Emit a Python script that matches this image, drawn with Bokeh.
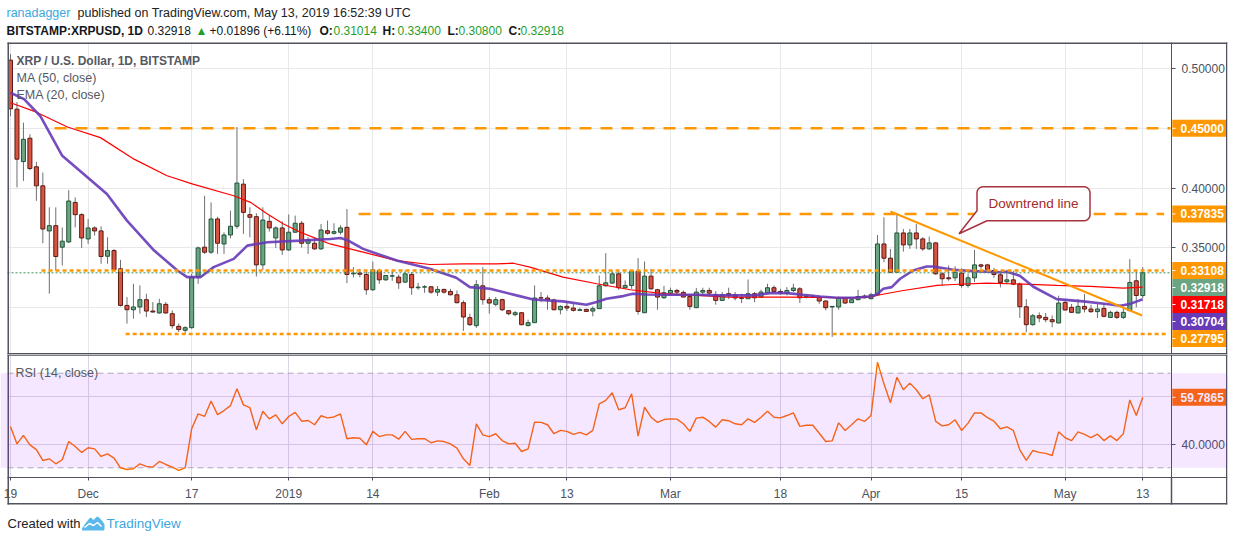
import numpy as np
from bokeh.plotting import figure
from bokeh.models import (Range1d, FixedTicker, PrintfTickFormatter, Label, BoxAnnotation,
                          ColumnDataSource, LinearAxis)
from bokeh.layouts import column
from bokeh.embed import file_html
from bokeh.resources import INLINE
from bokeh.core.properties import value

# ---------------- data ----------------
first_day = "2018-11-19"   # day 0 ; one candle per day up to 2019-05-13 (day 175)

opens = [0.507, 0.466, 0.4222, 0.4417, 0.4178, 0.4019, 0.3642, 0.3686, 0.3506, 0.3550,
         0.3880, 0.3778, 0.3575, 0.3667, 0.3642, 0.3430, 0.3478, 0.3325, 0.3019, 0.2983,
         0.3006, 0.3067, 0.2972, 0.2956, 0.3028, 0.2950, 0.2844, 0.2811, 0.2833, 0.3256,
         0.3506, 0.3464, 0.3742, 0.3533, 0.3608, 0.3681, 0.4033, 0.3778, 0.3761, 0.3358,
         0.3722, 0.3583, 0.3667, 0.3483, 0.3631, 0.3706, 0.3539, 0.3539, 0.3492, 0.3644,
         0.3622, 0.3631, 0.3672, 0.3283, 0.3290, 0.3278, 0.3150, 0.3311, 0.3233, 0.3264,
         0.3256, 0.3214, 0.3278, 0.3167, 0.3172, 0.3175, 0.3130, 0.3153, 0.3136, 0.3108,
         0.3042, 0.2917, 0.2850, 0.3183, 0.3067, 0.3028, 0.3067, 0.2975, 0.2942, 0.2958,
         0.2850, 0.2875, 0.3083, 0.3081, 0.3064, 0.2983, 0.3011, 0.2997, 0.2978, 0.2986,
         0.2972, 0.2992, 0.3183, 0.3206, 0.3283, 0.3167, 0.3186, 0.3306, 0.2958, 0.3264,
         0.3150, 0.3083, 0.3122, 0.3144, 0.3128, 0.3094, 0.3000, 0.3130, 0.3144, 0.3108,
         0.3061, 0.3117, 0.3108, 0.3083, 0.3075, 0.3117, 0.3089, 0.3125, 0.3167, 0.3136,
         0.3122, 0.3144, 0.3158, 0.3089, 0.3094, 0.3089, 0.3056, 0.3006, 0.3006, 0.3083,
         0.3042, 0.3067, 0.3097, 0.3075, 0.3108, 0.3533, 0.3414, 0.3297, 0.3625, 0.3525,
         0.3625, 0.3575, 0.3492, 0.3542, 0.3283, 0.3250, 0.3250, 0.3289, 0.3186, 0.3250,
         0.3358, 0.3358, 0.3311, 0.3275, 0.3217, 0.3233, 0.3197, 0.3008, 0.2858, 0.2933,
         0.2919, 0.2900, 0.2872, 0.3044, 0.3003, 0.2956, 0.3011, 0.2989, 0.2967, 0.2994,
         0.2919, 0.2961, 0.2919, 0.2975, 0.3225, 0.31014]

highs = [0.512, 0.472, 0.4547, 0.4450, 0.4220, 0.4130, 0.3839, 0.3839, 0.3672, 0.3983,
         0.3922, 0.3790, 0.3742, 0.3680, 0.3680, 0.3589, 0.3490, 0.3400, 0.3089, 0.3200,
         0.3186, 0.3117, 0.3047, 0.3075, 0.3047, 0.2978, 0.2867, 0.2844, 0.3283, 0.3511,
         0.3936, 0.3880, 0.3760, 0.3630, 0.3811, 0.4511, 0.4075, 0.3839, 0.3790, 0.3839,
         0.3770, 0.3680, 0.3722, 0.3780, 0.3770, 0.3725, 0.3589, 0.3583, 0.3700, 0.3728,
         0.3706, 0.3689, 0.3825, 0.3339, 0.3325, 0.3311, 0.3386, 0.3325, 0.3261, 0.3311,
         0.3278, 0.3311, 0.3297, 0.3208, 0.3189, 0.3181, 0.3181, 0.3158, 0.3158, 0.3144,
         0.3061, 0.2950, 0.3231, 0.3339, 0.3089, 0.3089, 0.3075, 0.2978, 0.2972, 0.2964,
         0.2900, 0.3186, 0.3131, 0.3103, 0.3075, 0.3019, 0.3053, 0.3033, 0.3000, 0.2992,
         0.3011, 0.3269, 0.3456, 0.3311, 0.3311, 0.3228, 0.3311, 0.3414, 0.3386, 0.3325,
         0.3158, 0.3183, 0.3167, 0.3158, 0.3144, 0.3103, 0.3164, 0.3167, 0.3167, 0.3139,
         0.3131, 0.3167, 0.3131, 0.3117, 0.3236, 0.3131, 0.3150, 0.3200, 0.3186, 0.3158,
         0.3172, 0.3200, 0.3172, 0.3111, 0.3111, 0.3100, 0.3061, 0.3014, 0.3094, 0.3089,
         0.3067, 0.3150, 0.3111, 0.3125, 0.3608, 0.3756, 0.3492, 0.3789, 0.3658, 0.3658,
         0.3700, 0.3589, 0.3594, 0.3550, 0.3297, 0.3353, 0.3347, 0.3331, 0.3283, 0.3483,
         0.3367, 0.3367, 0.3333, 0.3308, 0.3317, 0.3308, 0.3211, 0.3072, 0.2947, 0.2961,
         0.2956, 0.2936, 0.3100, 0.3072, 0.3031, 0.3072, 0.3114, 0.3025, 0.3031, 0.3036,
         0.2975, 0.2975, 0.3008, 0.3406, 0.3308, 0.3340]

lows = [0.4600, 0.4006, 0.4060, 0.4150, 0.3894, 0.3539, 0.3117, 0.3311, 0.3353, 0.3540,
        0.3672, 0.3500, 0.3533, 0.3603, 0.3367, 0.3367, 0.3311, 0.3010, 0.2867, 0.2908,
        0.2950, 0.2922, 0.2960, 0.2950, 0.2950, 0.2825, 0.2797, 0.2783, 0.2825, 0.3200,
        0.3450, 0.3450, 0.3450, 0.3450, 0.3580, 0.3660, 0.3617, 0.3589, 0.3261, 0.3317,
        0.3636, 0.3500, 0.3442, 0.3475, 0.3625, 0.3503, 0.3450, 0.3483, 0.3483, 0.3611,
        0.3611, 0.3611, 0.3206, 0.3253, 0.3253, 0.3108, 0.3140, 0.3200, 0.3225, 0.3225,
        0.3158, 0.3208, 0.3108, 0.3150, 0.3125, 0.3117, 0.3097, 0.3117, 0.3103, 0.3036,
        0.2806, 0.2847, 0.2831, 0.3025, 0.2950, 0.3011, 0.2972, 0.2936, 0.2928, 0.2853,
        0.2844, 0.2872, 0.3047, 0.2983, 0.2978, 0.2944, 0.2972, 0.2967, 0.2972, 0.2964,
        0.2928, 0.2992, 0.3178, 0.3200, 0.3150, 0.3158, 0.3158, 0.2942, 0.2958, 0.3150,
        0.2983, 0.3075, 0.3111, 0.3097, 0.3097, 0.2983, 0.2997, 0.3103, 0.3114, 0.3025,
        0.3056, 0.3072, 0.3061, 0.3039, 0.3075, 0.3047, 0.3083, 0.3122, 0.3131, 0.3108,
        0.3103, 0.3131, 0.3039, 0.3078, 0.3085, 0.3033, 0.2978, 0.2756, 0.2983, 0.3033,
        0.3039, 0.3061, 0.3078, 0.3072, 0.3108, 0.3381, 0.3289, 0.3297, 0.3469, 0.3492,
        0.3492, 0.3475, 0.3483, 0.3275, 0.3186, 0.3225, 0.3222, 0.3167, 0.3167, 0.3214,
        0.3325, 0.3306, 0.3250, 0.3169, 0.3197, 0.3189, 0.2914, 0.2794, 0.2850, 0.2878,
        0.2878, 0.2836, 0.2872, 0.2975, 0.2956, 0.2953, 0.2961, 0.2956, 0.2914, 0.2919,
        0.2914, 0.2906, 0.2906, 0.2975, 0.3003, 0.3080]

closes = [0.4663, 0.4242, 0.4408, 0.4164, 0.4019, 0.3658, 0.3686, 0.3428, 0.3556, 0.3892,
          0.3778, 0.3583, 0.3667, 0.3642, 0.3428, 0.3478, 0.3317, 0.3019, 0.2983, 0.3006,
          0.3067, 0.2972, 0.2964, 0.3033, 0.2956, 0.2850, 0.2817, 0.2833, 0.3256, 0.3500,
          0.3464, 0.3742, 0.3539, 0.3608, 0.3681, 0.4042, 0.3797, 0.3756, 0.3358, 0.3733,
          0.3667, 0.3667, 0.3483, 0.3631, 0.3706, 0.3539, 0.3567, 0.3492, 0.3650, 0.3622,
          0.3636, 0.3667, 0.3278, 0.3289, 0.3280, 0.3150, 0.3317, 0.3233, 0.3269, 0.3267,
          0.3208, 0.3283, 0.3167, 0.3172, 0.3175, 0.3130, 0.3153, 0.3130, 0.3108, 0.3042,
          0.2922, 0.2858, 0.3192, 0.3067, 0.3039, 0.3067, 0.2983, 0.2950, 0.2958, 0.2858,
          0.2875, 0.3081, 0.3081, 0.3064, 0.2983, 0.3011, 0.2997, 0.2978, 0.2983, 0.2969,
          0.2992, 0.3183, 0.3208, 0.3283, 0.3167, 0.3186, 0.3306, 0.2969, 0.3264, 0.3158,
          0.3089, 0.3125, 0.3144, 0.3130, 0.3089, 0.3011, 0.3130, 0.3144, 0.3122, 0.3061,
          0.3108, 0.3103, 0.3081, 0.3078, 0.3117, 0.3083, 0.3131, 0.3167, 0.3136, 0.3122,
          0.3144, 0.3164, 0.3083, 0.3094, 0.3089, 0.3056, 0.3000, 0.3011, 0.3083, 0.3039,
          0.3067, 0.3094, 0.3083, 0.3108, 0.3533, 0.3414, 0.3297, 0.3625, 0.3525, 0.3625,
          0.3575, 0.3492, 0.3542, 0.3283, 0.3242, 0.3242, 0.3297, 0.3186, 0.3250, 0.3358,
          0.3347, 0.3317, 0.3278, 0.3211, 0.3233, 0.3197, 0.3008, 0.2858, 0.2933, 0.2914,
          0.2900, 0.2883, 0.3039, 0.2981, 0.2961, 0.3011, 0.2989, 0.2967, 0.2989, 0.2928,
          0.2961, 0.2919, 0.2961, 0.3211, 0.3102, 0.32918]

rsi14 = [47.5, 40.1, 43.7, 39.7, 37.7, 33.1, 33.8, 31.7, 33.4, 41.1,
         39.0, 36.5, 38.5, 38.0, 34.8, 35.9, 34.1, 30.0, 29.3, 29.6,
         31.7, 30.6, 30.3, 32.7, 31.4, 30.3, 28.9, 30.0, 46.5, 52.8,
         51.7, 58.2, 52.5, 54.2, 56.3, 63.4, 56.6, 55.4, 46.1, 53.9,
         50.7, 52.4, 48.6, 51.7, 53.4, 49.7, 50.0, 48.2, 52.0, 51.1,
         51.5, 52.8, 42.3, 42.7, 42.5, 39.7, 45.4, 43.2, 43.9, 43.9,
         42.1, 45.4, 42.0, 42.3, 42.3, 40.6, 41.4, 41.1, 40.1, 38.3,
         33.8, 31.0, 48.6, 43.9, 43.2, 44.4, 41.5, 40.1, 40.4, 36.9,
         38.0, 49.3, 49.2, 48.2, 44.4, 45.8, 45.4, 44.1, 45.0, 43.9,
         45.8, 57.0, 58.5, 61.7, 54.5, 55.4, 61.3, 43.4, 55.6, 51.4,
         49.2, 50.4, 50.7, 50.6, 48.6, 45.4, 51.0, 51.4, 49.6, 47.2,
         50.3, 49.9, 48.6, 48.2, 50.7, 49.2, 51.4, 53.9, 51.4, 51.1,
         52.1, 53.2, 47.5, 48.0, 48.0, 44.6, 41.1, 41.4, 49.0, 45.8,
         48.2, 50.7, 49.6, 52.1, 74.6, 65.5, 57.5, 68.3, 63.0, 65.8,
         63.0, 59.2, 60.8, 49.6, 47.7, 48.2, 50.3, 45.8, 48.9, 53.2,
         53.2, 51.2, 49.7, 46.5, 47.3, 45.8, 37.6, 33.1, 37.3, 36.5,
         36.1, 35.2, 45.2, 42.7, 41.5, 45.2, 44.1, 42.8, 44.2, 41.5,
         43.5, 41.5, 44.4, 58.7, 52.1, 59.7865]

ma50_day = [0.0, 3.6, 8.8, 13.9, 19.1, 24.2, 28.2, 34.5, 37.1, 39.7, 42.2, 44.8, 47.4, 49.4,
            54.5, 59.7, 64.8, 70.0, 75.1, 77.7, 80.3, 85.4, 90.6, 95.8, 100.9, 106.1, 110.9,
            120.0, 130.3, 132.8, 134.4, 138.0, 143.2, 145.7, 150.9, 156.6, 161.7, 166.9, 172.0, 175.0]
ma50 = [0.4714, 0.4644, 0.4511, 0.4422, 0.4242, 0.4103, 0.4033, 0.3936, 0.3881, 0.3783, 0.3700,
        0.3631, 0.3575, 0.3533, 0.3464, 0.3394, 0.3361, 0.3367, 0.3367, 0.3372, 0.3339, 0.3256,
        0.3200, 0.3150, 0.3117, 0.3103, 0.3089, 0.3089, 0.3083, 0.3089, 0.3108, 0.3144, 0.3186,
        0.3194, 0.3205, 0.3197, 0.3186, 0.3178, 0.3164, 0.31718]

ema20_day = [0.0, 2.1, 4.6, 8.0, 11.3, 14.9, 18.0, 22.2, 25.8, 27.3, 29.4, 31.4, 34.5, 36.6,
             39.7, 44.8, 49.4, 51.0, 52.0, 54.5, 59.7, 64.8, 68.9, 71.0, 74.1, 78.2, 80.8,
             85.4, 89.0, 90.6, 92.1, 94.7, 96.2, 98.3, 100.9, 106.1, 109.7, 114.8, 117.4, 120.0,
             122.5, 125.1, 127.7, 130.3, 132.8, 133.9, 134.9, 136.2, 137.5, 139.5, 141.6, 142.6,
             145.7, 148.8, 152.9, 154.0, 156.0, 158.1, 161.7, 165.8, 169.4, 171.5, 173.0, 174.1, 175.0]
ema20 = [0.4797, 0.4744, 0.4603, 0.4270, 0.4117, 0.3950, 0.3728, 0.3478, 0.3311, 0.3256, 0.3256,
         0.3339, 0.3408, 0.3519, 0.3547, 0.3561, 0.3575, 0.3583, 0.3567, 0.3492, 0.3394, 0.3325,
         0.3250, 0.3172, 0.3158, 0.3103, 0.3069, 0.3053, 0.3025, 0.3047, 0.3075, 0.3097, 0.3117,
         0.3111, 0.3108, 0.3108, 0.3103, 0.3103, 0.3122, 0.3122, 0.3108, 0.3094, 0.3083, 0.3083,
         0.3094, 0.3111, 0.3158, 0.3172, 0.3242, 0.3311, 0.3344, 0.3344, 0.3317, 0.3306, 0.3297,
         0.3300, 0.3267, 0.3175, 0.3072, 0.3053, 0.3031, 0.3017, 0.3031, 0.3053, 0.30704]

tick_day = [0, 12, 28, 43, 56, 74, 86, 102, 119, 133, 147, 163, 175]
tick_label = ["19", "Dec", "17", "2019", "14", "Feb", "13", "Mar", "18", "Apr", "15", "May", "13"]
price_ticks = [0.30, 0.35, 0.40, 0.45, 0.50]
rsi_ticks = [40, 60]

level_price = [0.45, 0.37835, 0.33108, 0.27795]
level_start = [6.8, 53.8, 4.8, 17.8]
level_end = [179.3, 178.3, 178.3, 178.8]

trend_day = [136.0, 174.9]
trend_price = [0.3804, 0.2935]

callout_day = 146.6
callout_price = 0.3618
callout_text = "Downtrend line"

# ---------------- layout (window pixels) / style ----------------
FONT = "Liberation Sans"
PAGE_W, PAGE_H = 1234, 541
BOX_L, BOX_R, SEP_X = 7, 1227, 1171          # chart box and price-scale separator
PRICE_TOP, PANE_SPLIT, RSI_BOT, AXIS_BOT = 42, 354, 477, 504
PX_DAY, DAY0_X = 6.47, 10.0                 # candle spacing and first candle position
ORANGE = "#ff9800"
UP_FILL, UP_LINE = "#6ba583", "#225437"
DN_FILL, DN_LINE = "#d75442", "#5b1a13"
FRAME_COL = "#50535e"
TXT_COL = "#4c525e"
GRID_COL = "#e8e8eb"
LEG_COL = "#555962"

p_lo, p_hi = 0.26087, 0.52174                # price at pane bottom / pane top
r_lo, r_hi = 25.9, 77.9                      # RSI at pane bottom / pane top
dpp_y = (p_hi - p_lo) / (PANE_SPLIT - PRICE_TOP)
dpr_y = (r_hi - r_lo) / (RSI_BOT - PANE_SPLIT)
dpp_x = 1.0 / PX_DAY


def X(px):          # window x -> day
    return (px - DAY0_X) / PX_DAY


def YP(py):         # window y -> price
    return p_hi - (py - PRICE_TOP) * dpp_y


def YR(py):         # window y -> RSI
    return r_hi - (py - PANE_SPLIT) * dpr_y


xr = Range1d(X(0), X(BOX_R))
sep_day = X(SEP_X)

days = np.arange(len(closes))
o = np.array(opens); h = np.array(highs); l = np.array(lows); c = np.array(closes)


def style_axis(ax):
    ax.major_label_text_font = FONT
    ax.major_label_text_font_size = "12px"
    ax.major_label_text_color = TXT_COL
    ax.minor_tick_line_color = None
    ax.major_tick_in = 0
    ax.major_tick_line_color = TXT_COL
    ax.axis_line_color = FRAME_COL


def white(fig, x0, x1, y0, y1):
    fig.quad(left=[x0], right=[x1], bottom=[y0], top=[y1], fill_color="white", line_color=None)


def border(fig, xs0, ys0, xs1, ys1):
    fig.segment(x0=xs0, y0=ys0, x1=xs1, y1=ys1, line_color=FRAME_COL, line_width=1.5)


def value_tags(fig, items, dpy, fmt):
    """stacked coloured value tags on the price scale, drawn in the scale column"""
    gap = 17 * dpy
    prev = None
    ys, cols, texts = [], [], []
    for val, col in sorted(items, key=lambda m: -m[0]):
        yd = val if prev is None else min(val, prev - gap)
        prev = yd
        ys.append(yd); cols.append(col); texts.append(fmt % val)
    fig.quad(left=X(SEP_X + 0.8), right=X(BOX_R - 0.5), bottom=[y - 8.5 * dpy for y in ys],
             top=[y + 8.5 * dpy for y in ys], fill_color=cols, line_color=None)
    fig.segment(x0=[X(SEP_X + 0.8)] * len(ys), y0=ys, x1=[X(SEP_X + 4)] * len(ys),
                y1=ys, line_color="white", line_width=1)
    fig.text(x=[X(SEP_X + 9)] * len(ys), y=ys, text=texts, text_font=value(FONT),
             text_font_size="12px", text_font_style="bold", text_color="white",
             text_baseline="middle", text_align="left")


def screen_label(fig, x, y, text, size, color, style="normal"):
    fig.add_layout(Label(x=x, y=y, x_units="screen", y_units="screen", text=text,
                         text_font=FONT, text_font_size=size, text_color=color,
                         text_font_style=style, text_baseline="middle"))


# =============== price pane (also holds the header) ===============
PH = PANE_SPLIT
p = figure(frame_width=BOX_R, frame_height=PH, x_range=xr, y_range=Range1d(YP(PANE_SPLIT), YP(0)),
           output_backend="svg", toolbar_location=None, x_axis_location=None,
           y_axis_location=None, min_border_left=0, min_border_right=PAGE_W - BOX_R,
           min_border_top=0, min_border_bottom=0)
p.outline_line_color = None
p.xgrid.ticker = FixedTicker(ticks=tick_day)
p.ygrid.ticker = FixedTicker(ticks=price_ticks)
p.grid.grid_line_color = GRID_COL

white(p, X(0), X(BOX_R), YP(PRICE_TOP), YP(0))          # header area
white(p, X(0), X(BOX_L), YP(PANE_SPLIT), YP(0))          # left margin
white(p, X(SEP_X), X(BOX_R), YP(PANE_SPLIT), YP(PRICE_TOP))  # price scale column

# candles
up = c >= o
src_up = ColumnDataSource(dict(x=days[up], top=np.maximum(o, c)[up], bottom=np.minimum(o, c)[up]))
src_dn = ColumnDataSource(dict(x=days[~up], top=np.maximum(o, c)[~up], bottom=np.minimum(o, c)[~up]))
p.segment(x0=days, y0=l, x1=days, y1=h, line_color="#6f6f72", line_width=1)
p.vbar(x="x", top="top", bottom="bottom", width=0.62, source=src_up,
       fill_color=UP_FILL, line_color=UP_LINE, line_width=1)
p.vbar(x="x", top="top", bottom="bottom", width=0.62, source=src_dn,
       fill_color=DN_FILL, line_color=DN_LINE, line_width=1)

# moving averages
p.line(ma50_day, ma50, line_color="#ff0000", line_width=1.2)
p.line(ema20_day, ema20, line_color="#673ab7", line_width=2.6, line_alpha=0.9)

# horizontal levels
level_dash = ["12 9", "12 9", "4 3", "4 3"]
for lp, ls, le, dash in zip(level_price, level_start, level_end, level_dash):
    p.segment(x0=[ls], y0=[lp], x1=[le], y1=[lp], line_color=ORANGE, line_width=2.6, line_dash=dash)

# last close dotted line
p.segment(x0=[X(BOX_L)], y0=[closes[-1]], x1=[sep_day], y1=[closes[-1]], line_color="#3f8f5f",
          line_width=1, line_dash="2 2")

# downtrend line
p.line(trend_day, trend_price, line_color=ORANGE, line_width=2)

# callout
L_, R_, T_, B_, rad = 18.0, 131.0, -47.0, -13.0, 6.0
pts = [(L_, -23.0), (L_, T_ + rad)]
for a in np.linspace(np.pi, 1.5 * np.pi, 6)[1:]:
    pts.append((L_ + rad + rad * np.cos(a), T_ + rad + rad * np.sin(a)))
pts.append((R_ - rad, T_))
for a in np.linspace(1.5 * np.pi, 2 * np.pi, 6)[1:]:
    pts.append((R_ - rad + rad * np.cos(a), T_ + rad + rad * np.sin(a)))
pts.append((R_, B_ - rad))
for a in np.linspace(0, 0.5 * np.pi, 6)[1:]:
    pts.append((R_ - rad + rad * np.cos(a), B_ - rad + rad * np.sin(a)))
pts.append((28.0, B_))
pts.append((0.0, 0.0))
pts.append((L_, -23.0))
cx = [callout_day + px * dpp_x for px, py in pts]
cy = [callout_price - py * dpp_y for px, py in pts]
p.patch(cx, cy, fill_color="white", line_color="#a8323e", line_width=1.5)
p.text(x=[callout_day + (L_ + R_) / 2 * dpp_x], y=[callout_price + 30 * dpp_y], text=[callout_text],
       text_font=value(FONT), text_font_size="13.5px", text_color="#a52a2a",
       text_align="center", text_baseline="middle")

# price scale
pax = LinearAxis(fixed_location=sep_day, ticker=FixedTicker(ticks=[0.35, 0.40, 0.50]),
                 formatter=PrintfTickFormatter(format="%.5f"), bounds=(YP(PANE_SPLIT), YP(PRICE_TOP)))
style_axis(pax)
pax.major_tick_out = 4
pax.major_label_standoff = 6
p.add_layout(pax, "right")
value_tags(p, [(level_price[0], ORANGE), (level_price[1], ORANGE), (level_price[2], ORANGE),
               (closes[-1], UP_FILL), (ma50[-1], "#ff0000"), (ema20[-1], "#673ab7"),
               (level_price[3], ORANGE)], dpp_y, "%.5f")

# chart box lines
border(p, [X(BOX_L), X(BOX_L + 0.75), X(BOX_R - 0.75)],
       [YP(PRICE_TOP + 0.75), YP(PRICE_TOP), YP(PRICE_TOP)],
       [X(BOX_R), X(BOX_L + 0.75), X(BOX_R - 0.75)],
       [YP(PRICE_TOP + 0.75), YP(PANE_SPLIT), YP(PANE_SPLIT)])
border(p, [X(BOX_L)], [YP(PANE_SPLIT - 0.75)], [X(BOX_R)], [YP(PANE_SPLIT - 0.75)])

# legends
screen_label(p, 16, PH - 60, "XRP / U.S. Dollar, 1D, BITSTAMP", "12px", LEG_COL, "bold")
screen_label(p, 16, PH - 77, "MA (50, close)", "12.5px", LEG_COL)
screen_label(p, 16, PH - 94.5, "EMA (20, close)", "12.5px", LEG_COL)

# header
screen_label(p, 6, PH - 12.7, "ranadagger", "12.5px", "#3aa8df")
screen_label(p, 77, PH - 12.7, "published on TradingView.com, May 13, 2019 16:52:39 UTC", "12.5px", "#222222")
GREEN = "#1f9e2a"
pieces = [("BITSTAMP:XRPUSD, 1D", 6, "bold", "#131722"), ("0.32918", 147, "normal", "#131722"),
          ("\u25b2", 195, "normal", GREEN), ("+0.01896 (+6.11%)", 209, "normal", "#131722"),
          ("O:", 319, "bold", "#131722"), ("0.31014", 333, "normal", GREEN),
          ("H:", 382, "bold", "#131722"), ("0.33400", 397, "normal", GREEN),
          ("L:", 447, "bold", "#131722"), ("0.30800", 458, "normal", GREEN),
          ("C:", 508, "bold", "#131722"), ("0.32918", 520, "normal", GREEN)]
for txt, xx, sty, col in pieces:
    screen_label(p, xx, PH - 30, txt, "12px", col, sty)

# =============== RSI pane (also holds time axis and footer) ===============
RH = PAGE_H - PANE_SPLIT
q = figure(frame_width=BOX_R, frame_height=RH, x_range=xr, y_range=Range1d(YR(PAGE_H), YR(PANE_SPLIT)),
           output_backend="svg", toolbar_location=None, x_axis_location=None, y_axis_location=None,
           min_border_left=0, min_border_right=PAGE_W - BOX_R, min_border_top=0,
           min_border_bottom=0)
q.outline_line_color = None
q.xgrid.ticker = FixedTicker(ticks=tick_day)
q.ygrid.ticker = FixedTicker(ticks=rsi_ticks)
q.grid.grid_line_color = "#dcd6e2"
q.add_layout(BoxAnnotation(bottom=30, top=70, fill_color="#9915ff", fill_alpha=0.1, line_color=None))
white(q, X(0), X(BOX_L), YR(PAGE_H), YR(PANE_SPLIT))
white(q, X(SEP_X), X(BOX_R), YR(RSI_BOT), YR(PANE_SPLIT))
white(q, X(0), X(BOX_R), YR(PAGE_H), YR(RSI_BOT))

for lv in (30, 70):
    q.segment(x0=[X(BOX_L)], y0=[lv], x1=[X(SEP_X - 1)], y1=[lv], line_color="#b3adb9",
              line_width=1, line_dash="6 4")
q.line(days, rsi14, line_color="#ff6d00", line_width=1.4)

rax = LinearAxis(fixed_location=sep_day, ticker=FixedTicker(ticks=[40]),
                 formatter=PrintfTickFormatter(format="%.4f"), bounds=(YR(RSI_BOT), YR(PANE_SPLIT)))
style_axis(rax)
rax.major_tick_out = 4
rax.major_label_standoff = 6
q.add_layout(rax, "right")
value_tags(q, [(rsi14[-1], "#ff6d00")], dpr_y, "%.4f")

xax = LinearAxis(fixed_location=YR(RSI_BOT), ticker=FixedTicker(ticks=tick_day),
                 bounds=(X(BOX_L), X(BOX_R)))
xax.major_label_overrides = {d: s for d, s in zip(tick_day, tick_label)}
style_axis(xax)
xax.major_tick_out = 3
xax.major_label_standoff = 6
q.add_layout(xax, "below")

border(q, [X(BOX_L + 0.75), X(BOX_R - 0.75), X(SEP_X), X(BOX_L)],
       [YR(PANE_SPLIT), YR(PANE_SPLIT), YR(RSI_BOT), YR(AXIS_BOT - 0.75)],
       [X(BOX_L + 0.75), X(BOX_R - 0.75), X(SEP_X), X(BOX_R)],
       [YR(AXIS_BOT), YR(AXIS_BOT), YR(AXIS_BOT), YR(AXIS_BOT - 0.75)])
border(q, [X(BOX_L)], [YR(PANE_SPLIT + 0.5)], [X(BOX_R)], [YR(PANE_SPLIT + 0.5)])

screen_label(q, 15, RH - 18.7, "RSI (14, close)", "12.5px", LEG_COL)

# footer
screen_label(q, 7, PAGE_H - 523, "Created with", "13px", "#222222")
logo_x = [82, 86, 90, 93, 97, 101, 103, 103, 82]
logo_y = [529, 523, 518, 521, 517, 521, 524, 529, 529]
q.patch([X(v) for v in logo_x], [YR(v) for v in logo_y], fill_color="#5bb8ea",
        line_color="#5bb8ea", line_width=2)
q.line([X(v) for v in (84, 89, 93, 97, 101)], [YR(v) for v in (527, 523, 525, 522, 526)],
       line_color="white", line_width=1.5)
screen_label(q, 106, PAGE_H - 523, "TradingView", "13.5px", "#3ea6df")

page = column(p, q, spacing=0)
open("out.html", "w").write(file_html(page, INLINE))
